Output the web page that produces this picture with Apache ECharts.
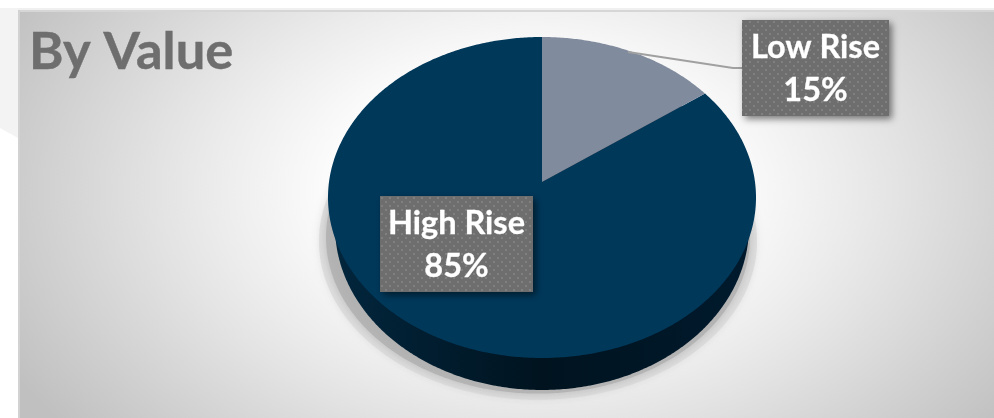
<!DOCTYPE html>
<html><head><meta charset="utf-8">
<style>html,body{margin:0;padding:0;background:#fff}#c{width:994px;height:418px}</style>
<script src="https://cdn.jsdelivr.net/npm/echarts@6/dist/echarts.min.js"></script>
</head><body><div id="c"></div>
<script>
const categories = ['Low Rise', 'High Rise'];
const shares = [15, 85];
const sliceColors = ['#818b9e', '#00385a'];
const titleText = 'By Value';

const tilt = 0.0966;
const top_ = {cx: 542, cy: 182, a: 159, b: 213};
const bottom_ = {cx: 542, cy: 211, a: 161.7, b: 206};
function project(frame, theta) {
  const u = Math.sin(theta), v = Math.cos(theta), d = 1 + tilt * v;
  return [frame.cx + frame.b * u / d, frame.cy - frame.a * v / d];
}
function arc(frame, from, to) {
  const pts = [], n = Math.max(2, Math.ceil((to - from) / 0.01));
  for (let i = 0; i <= n; i++) pts.push(project(frame, from + (to - from) * i / n));
  return pts;
}
const dotCanvas = document.createElement('canvas');
dotCanvas.width = dotCanvas.height = 8;
(function () {
  const g = dotCanvas.getContext('2d');
  g.fillStyle = '#6e6e6e'; g.fillRect(0, 0, 8, 8);
  g.fillStyle = '#808080'; g.fillRect(1, 1, 2, 2); g.fillRect(5, 5, 2, 2);
})();
function labelBox(x, y, w, h, name, pct) {
  const font = 'bold 32.5px Lato, "Open Sans", sans-serif';
  const line = (text, cy) => ({type: 'text', z2: 30, style: {text, x: x + w / 2, y: cy, fill: '#fff', font, align: 'center', verticalAlign: 'middle', stroke: '#fff', lineWidth: 0.3}});
  return {type: 'group', children: [
    {type: 'rect', z2: 29, shape: {x, y, width: w, height: h},
      style: {fill: {image: dotCanvas, repeat: 'repeat'}, shadowBlur: 7, shadowOffsetX: 3, shadowOffsetY: 3, shadowColor: 'rgba(0,0,0,0.5)'}},
    line(name, y + 28), line(pct + '%', y + 71)
  ]};
}
const total = shares.reduce((a, b) => a + b, 0);
const angles = [];
shares.reduce((acc, v) => { const next = acc + v / total * 2 * Math.PI; angles.push([acc, next]); return next; }, 0);
const boxes = [[742, 20, 147, 96], [380, 196, 153, 96]];

const option = {
  animation: false,
  title: {text: titleText, left: 24, top: 21, textStyle: {fontFamily: 'Lato, "Open Sans", sans-serif', fontSize: 52.5, fontWeight: 'bold', color: '#6e6e6e', textBorderColor: '#6e6e6e', textBorderWidth: 0.4}},
  graphic: [
    {type: 'polygon', silent: true, z: 0, shape: {points: [[0, 8], [18, 8], [18, 138], [0, 128]]}, style: {fill: '#f3f3f3'}},
    {type: 'rect', silent: true, z: 0, shape: {x: 18, y: 8, width: 976, height: 2}, style: {fill: '#f0f0f0'}},
    {type: 'rect', silent: true, z: 0, x: 0, y: 10, scaleX: 1, scaleY: 0.65,
      shape: {x: 18, y: 0, width: 976, height: 628},
      style: {fill: {type: 'radial', global: true, x: 530, y: 277, r: 590,
        colorStops: [{offset: 0, color: '#fff'}, {offset: 0.3, color: '#fff'}, {offset: 0.53, color: '#ececec'}, {offset: 0.63, color: '#e3e3e3'}, {offset: 0.84, color: '#cfcfcf'}, {offset: 1, color: '#c0c0c0'}]}}},
    {type: 'rect', silent: true, z: 1, shape: {x: 18, y: 10, width: 976, height: 2}, style: {fill: '#d6d6d6'}},
    {type: 'rect', silent: true, z: 1, shape: {x: 18, y: 10, width: 2, height: 408}, style: {fill: '#d2d2d2'}}
  ],
  series: [{
    type: 'custom', coordinateSystem: 'none', clip: false,
    data: categories.map((n, i) => ({name: n, value: shares[i]})),
    renderItem(params, api) {
      const i = params.dataIndex, [a0, a1] = angles[i];
      const children = [];
      if (i === 1) {
        children.push({type: 'polygon', z2: 1, shape: {points: arc({cx: 538, cy: 226, a: 157, b: 218}, 0, 2 * Math.PI)},
          style: {fill: 'rgba(215,215,215,0.7)', shadowBlur: 8, shadowColor: 'rgba(215,215,215,0.7)'}});
        children.push({type: 'polygon', z2: 1, shape: {points: arc({cx: 538, cy: 222, a: 155, b: 211}, 0, 2 * Math.PI)},
          style: {fill: 'rgba(175,175,175,0.8)', shadowBlur: 10, shadowColor: 'rgba(175,175,175,0.9)'}});
        children.push({type: 'polygon', z2: 2, shape: {points: arc(bottom_, 0, 2 * Math.PI)},
          style: {fill: {type: 'linear', x: 0, y: 0, x2: 1, y2: 0, colorStops: [
            {offset: 0, color: '#02263d'}, {offset: 0.5, color: '#00131f'}, {offset: 1, color: '#001a2d'}]}}});
      }
      children.push({type: 'polygon', z2: i === 0 ? 6 : 5,
        shape: {points: [[top_.cx, top_.cy]].concat(arc(top_, a0, a1))},
        style: {fill: sliceColors[i]}});
      if (i === 0) {
        children.push({type: 'polyline', z2: 7, shape: {points: [[628, 52], [733, 68], [742, 68]]},
          style: {fill: 'none', stroke: '#a0a0a0', lineWidth: 1.8}});
      }
      const b = boxes[i];
      children.push(labelBox(b[0], b[1], b[2], b[3], categories[i], api.value(0)));
      return {type: 'group', children};
    }
  }]
};
echarts.init(document.getElementById('c'), null, {renderer: 'canvas'}).setOption(option);
</script></body></html>
